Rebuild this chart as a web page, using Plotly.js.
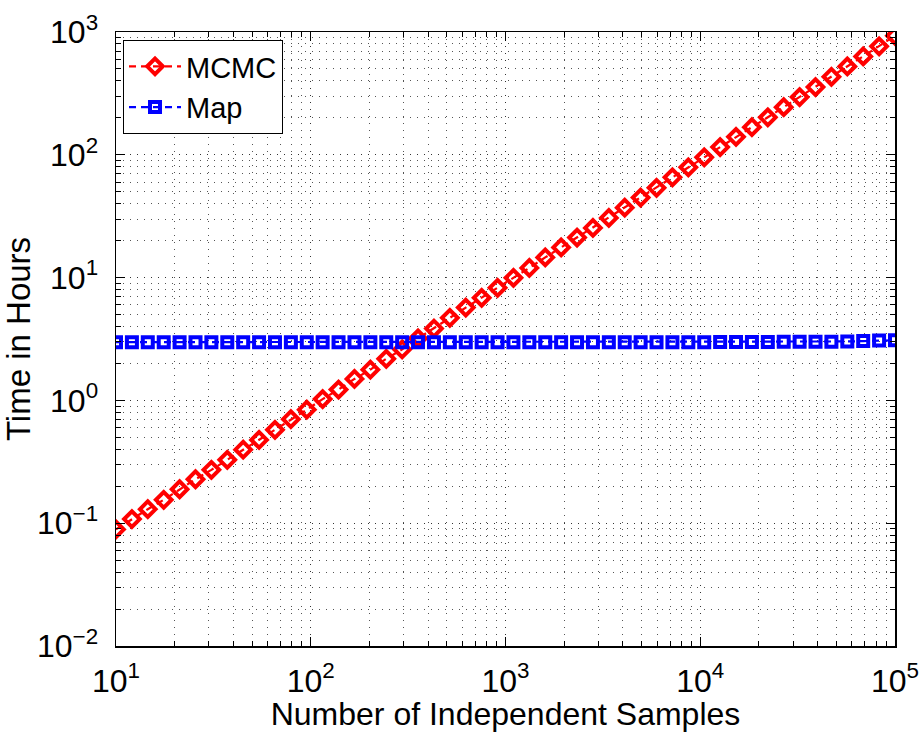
<!DOCTYPE html>
<html>
<head>
<meta charset="utf-8">
<script src="https://cdn.plot.ly/plotly-3.0.1.min.js"></script>
<style>html,body{margin:0;padding:0;background:#fff;}#chart{width:923px;height:732px;}</style>
</head>
<body>
<div id="chart"></div>
<script>
// Number of independent samples (log-spaced, 50 points from 10 to 1e5)
var samples = [10, 12.07, 14.56, 17.58, 21.21, 25.6, 30.89, 37.28, 44.98, 54.29,
  65.51, 79.06, 95.41, 115.1, 138.9, 167.7, 202.4, 244.2, 294.7, 355.6,
  429.2, 517.9, 625.1, 754.3, 910.3, 1098.5, 1325.7, 1599.9, 1930.7, 2330,
  2811.8, 3393.2, 4094.9, 4941.7, 5963.6, 7196.9, 8685.1, 10481, 12649, 15264,
  18421, 22230, 26827, 32375, 39069, 47149, 56899, 68665, 82864, 100000];

// Time in hours, MCMC
var mcmcHours = [0.089, 0.108, 0.130, 0.155, 0.189, 0.228, 0.272, 0.328, 0.397, 0.477,
  0.576, 0.703, 0.840, 1.025, 1.225, 1.495, 1.78, 2.18, 2.60, 3.20,
  3.85, 4.70, 5.70, 6.85, 8.25, 9.95, 12.0, 14.6, 17.6, 21.2,
  25.4, 30.6, 37.1, 44.8, 53.8, 65.5, 79.0, 95.3, 115.5, 140,
  168, 202, 244, 295, 356, 432, 524, 632, 764, 930];

// Time in hours, Map
var mapHours = [2.98, 2.98, 2.98, 2.98, 2.98, 2.98, 2.98, 2.98, 2.98, 2.98,
  2.98, 2.98, 2.98, 2.98, 2.98, 2.98, 2.98, 2.98, 2.98, 2.98,
  2.98, 2.98, 2.98, 2.98, 2.98, 2.98, 2.98, 2.98, 2.98, 2.98,
  2.98, 2.98, 2.98, 2.98, 2.98, 2.98, 2.98, 2.98, 2.99, 2.99,
  2.99, 2.99, 3.0, 3.0, 3.0, 3.01, 3.02, 3.04, 3.07, 3.09];

var xTickVals = [10, 100, 1000, 10000, 100000];
var xTickText = ['10<sup>1</sup>', '10<sup>2</sup>', '10<sup>3</sup>', '10<sup>4</sup>', '10<sup>5</sup>'];
var yTickVals = [0.01, 0.1, 1, 10, 100, 1000];
var yTickText = ['10<sup>\u22122</sup>', '10<sup>\u22121</sup>', '10<sup>0</sup>', '10<sup>1</sup>', '10<sup>2</sup>', '10<sup>3</sup>'];

var FONT = 'Liberation Sans, Arial, sans-serif';

var traces = [
  {
    x: samples, y: mcmcHours, name: 'MCMC', type: 'scatter', mode: 'lines+markers',
    line: {color: '#ff0000', width: 2.2, dash: '7px,5px'},
    marker: {symbol: 'diamond-open', size: 12, color: '#ff0000', line: {color: '#ff0000', width: 4}}
  },
  {
    x: samples, y: mapHours, name: 'Map', type: 'scatter', mode: 'lines+markers',
    line: {color: '#0000ff', width: 2.2, dash: '7px,5px'},
    marker: {symbol: 'square-open', size: 10, color: '#0000ff', line: {color: '#0000ff', width: 4}}
  }
];

var gridDash = '1px,6px';
var axisCommon = {
  type: 'log',
  tickmode: 'array',
  showline: true, linecolor: '#000', linewidth: 1.5, mirror: 'ticks',
  ticks: 'inside', ticklen: 9, tickwidth: 1, tickcolor: '#000',
  showgrid: true, gridcolor: '#333', gridwidth: 1, griddash: gridDash,
  zeroline: false,
  tickfont: {family: FONT, size: 32, color: '#000'},
  minor: {
    dtick: 'D1', ticks: 'inside', ticklen: 5, tickwidth: 1, tickcolor: '#000',
    showgrid: true, gridcolor: '#555', gridwidth: 1, griddash: gridDash
  }
};

var layout = {
  width: 923, height: 732,
  margin: {l: 116, r: 28, t: 32, b: 86},
  paper_bgcolor: '#fff', plot_bgcolor: '#fff',
  showlegend: true,
  legend: {
    x: 0.009, y: 0.987, xanchor: 'left', yanchor: 'top',
    bgcolor: '#fff', bordercolor: '#000', borderwidth: 1,
    font: {family: FONT, size: 29, color: '#000'},
    itemwidth: 52,
    tracegroupgap: 0
  },
  xaxis: Object.assign({}, axisCommon, {
    range: [1, 5], tickvals: xTickVals, ticktext: xTickText,
    ticklabelstandoff: 6,
    title: {text: 'Number of Independent Samples', standoff: 0,
      font: {family: FONT, size: 32, color: '#000'}}
  }),
  yaxis: Object.assign({}, axisCommon, {
    range: [-2, 3], tickvals: yTickVals, ticktext: yTickText,
    ticklabelstandoff: 10,
    title: {text: 'Time in Hours', standoff: 2,
      font: {family: FONT, size: 33, color: '#000'}}
  })
};

Plotly.newPlot('chart', traces, layout, {displayModeBar: false, staticPlot: true});
</script>
</body>
</html>
